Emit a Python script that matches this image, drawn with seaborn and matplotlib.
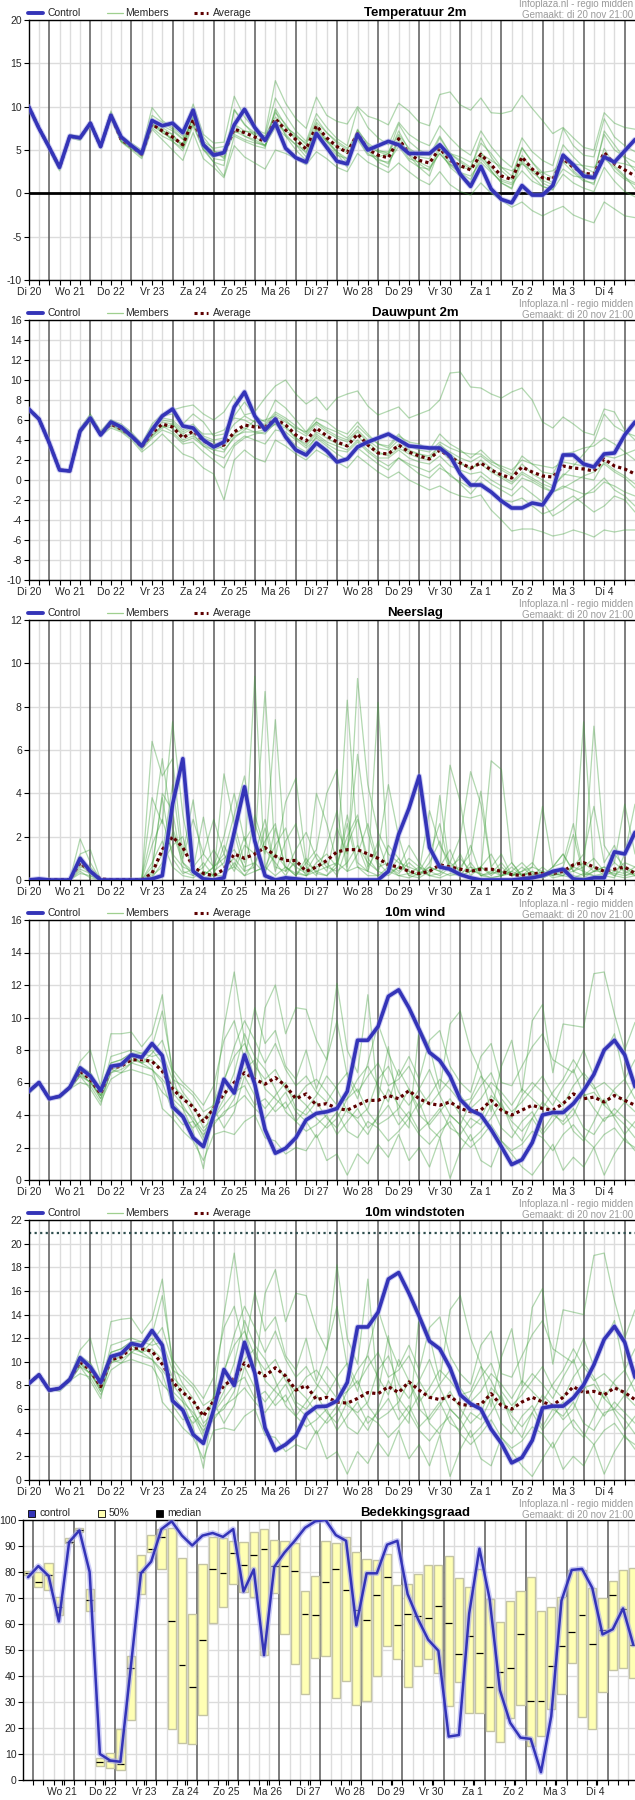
import numpy as np
import pandas as pd
import matplotlib
matplotlib.use('Agg')
import matplotlib.pyplot as plt
from matplotlib.lines import Line2D
from matplotlib.patches import Rectangle
import seaborn as sns

sns.set_style('white')
plt.rcParams['font.family'] = ['Liberation Sans', 'DejaVu Sans']
plt.rcParams['axes.unicode_minus'] = False

W, H = 635, 1800

# time axis: hours since Di 20 00:00, one value every 6 hours
hours = np.arange(12, 367, 6)
cloud_hours = np.arange(21, 376, 6)
day_labels = ['Di 20', 'Wo 21', 'Do 22', 'Vr 23', 'Za 24', 'Zo 25', 'Ma 26', 'Di 27',
              'Wo 28', 'Do 29', 'Vr 30', 'Za 1', 'Zo 2', 'Ma 3', 'Di 4']

# ---- Temperatuur 2m ----
temp_control = [10.0, 7.5, 5.3, 3.0, 6.6, 6.4, 8.1, 5.4, 9.0, 6.5, 5.5, 4.6, 8.4, 7.8, 8.1, 7.0,
                9.6, 5.6, 4.4, 4.7, 7.9, 9.7, 7.6, 6.1, 8.1, 5.2, 4.1, 3.6, 6.9, 5.3, 3.7, 3.4,
                6.8, 5.0, 5.5, 6.0, 5.6, 4.6, 4.6, 4.6, 5.6, 4.3, 2.2, 0.8, 3.1, 0.5, -0.7, -1.1,
                0.9, -0.2, -0.2, 0.9, 4.4, 3.3, 2.0, 1.8, 4.2, 3.6, 4.9, 6.2]
temp_average = [10.0, 7.5, 5.3, 3.0, 6.6, 6.4, 8.1, 5.4, 9.0, 6.2, 5.4, 4.5, 8.0, 7.2, 6.5, 5.6,
                8.5, 5.6, 4.5, 4.6, 7.4, 7.0, 6.5, 6.0, 8.6, 7.3, 6.2, 5.1, 7.8, 6.4, 5.4, 4.7,
                6.9, 5.1, 4.4, 4.1, 6.3, 4.6, 3.8, 3.5, 5.2, 3.8, 3.2, 2.7, 4.5, 3.3, 2.0, 1.6,
                4.2, 2.8, 1.8, 1.6, 4.0, 3.0, 2.3, 2.2, 4.7, 3.4, 2.7, 2.0]
temp_members = [
    [10.0, 7.6, 5.2, 2.8, 6.8, 6.5, 8.3, 5.6, 9.5, 6.6, 5.8, 5.0, 9.9, 8.4, 7.6, 6.6, 10.3, 6.8, 5.8, 5.9,
     11.2, 8.8, 7.4, 6.9, 13.0, 10.4, 8.6, 7.5, 11.1, 9.0, 8.3, 8.0, 10.0, 8.9, 8.5, 7.9, 10.4, 9.5, 8.2, 7.8,
     11.4, 11.7, 10.2, 9.6, 11.0, 9.3, 9.2, 9.5, 11.3, 9.8, 8.4, 6.9, 7.6, 6.4, 5.3, 5.0, 9.3, 8.1, 7.6, 7.4],
    [10.0, 7.4, 5.0, 2.6, 6.4, 6.1, 7.8, 5.2, 8.6, 5.9, 5.0, 4.0, 7.4, 6.2, 5.0, 3.8, 7.0, 4.0, 3.0, 1.8,
     5.5, 4.2, 3.5, 2.8, 5.0, 4.6, 4.0, 3.3, 4.8, 4.0, 3.0, 2.5, 4.6, 3.6, 3.0, 2.4, 3.5, 2.5, 1.6, 1.0,
     2.5, 1.0, 0.2, -0.2, 1.2, 0.0, -0.8, -1.6, -1.0, -2.0, -2.6, -2.0, -1.5, -2.5, -3.0, -3.4, -1.0, -1.8, -2.6, -2.8],
    [10.0, 7.5, 5.4, 3.1, 6.7, 6.6, 8.0, 5.5, 9.3, 6.4, 5.6, 4.8, 9.0, 8.2, 7.4, 6.3, 9.8, 6.5, 5.0, 4.0,
     9.6, 7.9, 7.0, 6.6, 11.0, 9.0, 7.2, 6.0, 9.2, 7.6, 6.3, 5.5, 9.8, 7.6, 6.4, 5.6, 8.2, 6.8, 6.0, 5.5,
     7.8, 6.4, 5.2, 4.4, 7.2, 5.4, 4.0, 3.0, 6.4, 4.8, 3.8, 3.2, 7.5, 5.5, 4.4, 4.2, 8.6, 6.5, 5.5, 4.8],
    [10.0, 7.6, 5.3, 3.0, 6.5, 6.3, 8.2, 5.3, 8.8, 6.0, 5.2, 4.2, 8.0, 7.4, 6.0, 5.2, 9.0, 5.2, 3.6, 2.0,
     6.6, 6.0, 5.5, 5.2, 9.6, 6.6, 5.0, 3.8, 7.6, 6.0, 4.6, 3.0, 7.3, 5.0, 3.6, 3.0, 6.6, 4.4, 3.0, 2.0,
     5.2, 3.0, 2.0, 1.2, 4.8, 2.6, 1.2, 0.5, 3.6, 2.0, 0.8, 0.4, 4.4, 2.6, 1.6, 1.0, 5.2, 3.2, 2.0, 0.5],
    [10.0, 7.4, 5.2, 3.1, 6.6, 6.4, 8.0, 5.4, 8.9, 6.3, 5.5, 4.6, 7.8, 7.0, 6.4, 5.6, 8.2, 5.8, 4.8, 4.8,
     7.2, 6.6, 6.2, 5.5, 8.0, 7.2, 6.5, 5.2, 7.0, 6.0, 5.4, 4.6, 6.2, 4.4, 4.2, 4.6, 5.8, 4.0, 3.6, 3.0,
     4.6, 3.3, 3.0, 2.8, 4.2, 3.0, 1.6, 1.2, 3.8, 2.4, 1.5, 1.0, 2.8, 2.0, 1.8, 1.6, 4.0, 3.0, 1.8, 1.2],
    [10.0, 7.5, 5.3, 3.0, 6.6, 6.4, 8.1, 5.4, 9.1, 6.1, 5.3, 4.3, 8.6, 7.6, 6.8, 5.4, 9.2, 5.4, 4.6, 4.2,
     8.0, 7.2, 6.8, 6.4, 9.3, 8.0, 6.0, 4.6, 8.0, 6.2, 4.8, 4.0, 7.4, 5.6, 4.8, 4.4, 7.2, 5.0, 4.2, 4.0,
     6.4, 4.6, 3.8, 3.0, 5.8, 4.6, 3.0, 2.0, 5.3, 3.6, 2.4, 1.8, 5.6, 4.2, 3.0, 2.4, 6.8, 5.0, 4.2, 3.6],
    [10.0, 7.5, 5.3, 3.0, 6.7, 6.3, 8.0, 5.5, 9.2, 6.4, 5.6, 4.4, 7.6, 6.6, 6.0, 4.9, 7.8, 5.0, 3.6, 3.2,
     9.7, 8.0, 6.6, 5.5, 9.8, 7.8, 6.6, 5.8, 8.6, 7.0, 5.8, 5.0, 7.2, 5.8, 5.0, 4.6, 8.0, 6.0, 5.0, 4.4,
     6.6, 4.6, 3.6, 2.8, 6.4, 4.2, 2.6, 1.6, 5.2, 3.6, 2.0, 1.2, 4.6, 3.2, 2.4, 2.0, 7.2, 5.6, 4.0, 2.6],
    [10.0, 7.5, 5.2, 2.9, 6.5, 6.5, 8.2, 5.3, 8.9, 6.0, 5.1, 4.6, 8.2, 7.0, 6.2, 5.8, 8.8, 5.4, 4.0, 3.8,
     8.0, 6.6, 6.0, 5.4, 8.4, 6.8, 5.6, 4.2, 7.4, 6.0, 4.8, 3.6, 6.8, 5.0, 4.0, 3.4, 6.0, 4.6, 3.4, 2.6,
     5.6, 3.4, 2.4, 1.6, 4.0, 2.6, 1.2, 0.6, 4.4, 2.8, 1.2, 0.6, 3.6, 2.4, 1.4, 1.2, 4.4, 2.6, 1.6, 1.0],
    [10.0, 7.4, 5.4, 3.0, 6.6, 6.5, 8.0, 5.4, 9.0, 6.2, 5.5, 4.7, 8.4, 7.8, 7.2, 6.2, 8.6, 6.0, 5.2, 5.4,
     7.0, 7.2, 7.0, 6.6, 8.8, 7.6, 6.8, 5.6, 8.2, 7.0, 6.0, 5.2, 6.6, 5.4, 4.8, 4.8, 6.8, 5.2, 4.4, 4.4,
     5.6, 4.6, 4.2, 3.6, 4.6, 3.8, 3.0, 2.6, 3.4, 2.6, 2.4, 2.6, 3.6, 3.4, 3.2, 3.0, 4.2, 3.6, 3.4, 3.0],
    [10.0, 7.6, 5.3, 3.0, 6.6, 6.3, 8.1, 5.4, 8.8, 6.1, 5.2, 4.4, 8.0, 7.2, 6.8, 5.2, 8.0, 5.0, 4.2, 4.6,
     6.8, 6.2, 5.8, 5.6, 7.6, 6.6, 5.6, 4.8, 7.2, 5.6, 4.4, 4.0, 6.4, 4.6, 3.8, 3.6, 5.4, 3.8, 3.0, 2.8,
     4.6, 3.2, 2.4, 2.0, 3.6, 2.4, 1.4, 1.0, 2.6, 1.4, 0.8, 0.4, 2.2, 1.2, 0.6, 0.2, 3.0, 1.4, 0.2, -0.4],
]

# ---- Dauwpunt 2m ----
dew_control = [7.1, 6.1, 3.7, 1.0, 0.9, 4.9, 6.2, 4.5, 5.8, 5.3, 4.4, 3.4, 5.0, 6.4, 7.1, 5.4,
               5.2, 4.0, 3.3, 3.8, 7.3, 8.8, 6.4, 5.0, 6.1, 4.3, 3.0, 2.5, 3.7, 2.9, 1.8, 2.1,
               3.3, 3.8, 4.2, 4.6, 4.0, 3.4, 3.3, 3.2, 3.2, 2.4, 0.6, -0.5, -0.5, -1.2, -2.1, -2.8,
               -2.8, -2.3, -2.5, -1.0, 2.5, 2.5, 1.6, 1.3, 2.6, 2.7, 4.5, 5.8]
dew_average = [7.1, 6.1, 3.7, 1.0, 0.9, 4.9, 6.2, 4.6, 5.6, 5.1, 4.4, 3.3, 4.7, 5.6, 5.3, 4.2,
               4.9, 3.9, 3.4, 3.5, 4.8, 5.5, 5.3, 5.3, 6.1, 5.5, 4.5, 3.9, 5.2, 4.4, 3.8, 3.4,
               4.6, 3.5, 2.7, 2.6, 3.5, 2.8, 2.4, 2.1, 3.0, 2.3, 1.7, 1.2, 1.7, 1.0, 0.5, 0.2,
               1.3, 0.8, 0.4, 0.3, 1.4, 1.2, 1.1, 0.9, 2.1, 1.4, 1.1, 0.6]
dew_members = [
    [7.1, 6.0, 3.6, 1.1, 0.8, 5.0, 6.5, 4.8, 6.0, 5.6, 4.8, 3.6, 5.6, 6.6, 7.0, 7.3, 7.5, 6.6, 6.0, 6.8,
     8.4, 6.5, 6.8, 8.2, 9.4, 10.0, 8.6, 7.6, 8.3, 7.0, 8.2, 8.6, 8.9, 7.4, 6.5, 6.9, 7.3, 6.2, 6.6, 7.0,
     8.0, 10.7, 10.8, 9.3, 9.2, 8.6, 8.2, 8.8, 9.2, 8.0, 5.8, 5.2, 6.3, 5.6, 4.8, 4.5, 7.1, 6.8, 5.0, 4.0],
    [7.1, 6.1, 3.8, 0.9, 1.0, 4.6, 6.0, 4.4, 5.2, 4.8, 4.0, 2.8, 3.6, 4.6, 3.6, 2.6, 2.2, 1.2, 0.6, -2.0,
     2.0, 3.0, 2.2, 1.8, 4.0, 3.4, 2.6, 2.0, 3.0, 2.4, 1.8, 1.2, 2.4, 1.6, 0.8, 0.2, 0.8, 0.0, -0.5, -1.0,
     -0.6, -1.2, -1.6, -1.8, -1.5, -3.0, -4.0, -5.1, -4.9, -4.9, -5.2, -5.6, -5.4, -5.0, -5.3, -5.7, -5.0, -5.2, -5.0, -5.0],
    [7.1, 6.1, 3.7, 1.0, 0.9, 5.2, 6.6, 4.9, 6.0, 5.4, 4.6, 3.6, 5.0, 6.4, 6.6, 5.6, 6.6, 5.8, 4.4, 4.6,
     6.4, 7.8, 6.4, 5.8, 8.0, 7.2, 6.0, 4.8, 6.2, 5.8, 5.0, 4.6, 5.8, 4.6, 3.6, 3.2, 4.4, 3.8, 3.6, 3.0,
     4.6, 3.6, 3.0, 2.2, 3.0, 2.0, 1.2, 0.6, 2.4, 1.6, 0.8, 0.6, 2.6, 2.8, 3.2, 3.4, 4.2, 3.6, 2.8, 2.0],
    [7.1, 6.1, 3.6, 0.9, 0.9, 4.8, 6.0, 4.4, 5.4, 4.9, 4.2, 3.0, 4.2, 5.0, 4.6, 3.6, 3.8, 2.8, 2.0, 1.2,
     3.4, 4.2, 4.6, 4.8, 5.6, 4.6, 3.4, 2.8, 4.4, 3.6, 3.0, 2.8, 3.8, 2.8, 2.0, 1.4, 2.2, 1.6, 1.2, 0.8,
     1.6, 0.4, -0.2, -0.8, 0.4, -0.4, -1.0, -1.6, -0.6, -1.4, -2.2, -3.6, -3.0, -2.2, -1.6, -0.8, 0.2, -1.0, -1.6, -2.6],
    [7.1, 6.1, 3.7, 1.0, 0.9, 4.9, 6.3, 4.7, 5.8, 5.2, 4.5, 3.4, 5.4, 6.0, 5.8, 4.8, 5.4, 4.6, 4.6, 5.0,
     6.2, 6.0, 5.4, 5.6, 6.8, 6.2, 5.4, 4.6, 5.8, 5.0, 4.4, 4.0, 5.0, 4.0, 3.2, 3.0, 4.0, 3.0, 2.6, 2.4,
     3.4, 2.8, 2.2, 1.8, 2.4, 1.6, 1.0, 0.4, 1.6, 0.6, 0.0, -0.6, 0.4, 1.4, 2.6, 3.8, 6.6, 5.4, 4.8, 4.4],
    [7.1, 6.0, 3.8, 1.0, 1.0, 5.0, 6.2, 4.6, 5.6, 5.0, 4.2, 3.2, 4.6, 5.4, 4.8, 3.8, 4.2, 3.4, 2.6, 2.2,
     3.6, 4.4, 4.0, 3.6, 5.0, 4.8, 4.0, 3.2, 4.2, 3.4, 2.6, 2.0, 3.2, 2.4, 1.6, 1.0, 2.2, 1.4, 0.6, 0.2,
     1.2, 0.6, -0.4, -1.4, -0.2, -1.2, -2.0, -2.2, -1.8, -2.6, -3.4, -3.0, -2.2, -1.6, -2.4, -3.2, -2.6, -1.6, -2.0, -3.2],
    [7.1, 6.1, 3.7, 1.0, 0.9, 4.8, 6.2, 4.6, 5.6, 5.2, 4.6, 3.4, 4.8, 5.8, 5.6, 4.6, 5.2, 4.2, 3.8, 3.0,
     4.2, 5.0, 6.0, 5.4, 6.6, 6.0, 5.0, 4.4, 5.6, 4.8, 4.2, 3.8, 4.8, 3.8, 2.8, 2.4, 3.2, 2.6, 2.2, 2.0,
     3.6, 2.6, 1.8, 1.0, 2.0, 1.2, 0.4, -0.2, 0.8, 0.2, -0.4, -0.8, 0.6, 0.4, 0.2, 0.0, 1.8, 1.0, 0.4, -0.4],
    [7.1, 6.1, 3.7, 1.0, 0.9, 4.9, 6.1, 4.5, 5.7, 5.0, 4.3, 3.2, 4.4, 5.2, 5.6, 4.4, 4.6, 3.4, 3.0, 2.8,
     4.4, 4.8, 4.8, 5.0, 5.6, 5.2, 4.2, 3.6, 4.8, 4.2, 3.6, 3.4, 4.4, 3.4, 2.6, 2.6, 3.6, 2.8, 2.6, 2.2,
     3.0, 2.0, 1.6, 1.2, 1.6, 0.8, 0.2, -0.4, 0.6, 0.0, -0.6, -1.2, -0.8, -0.2, 0.4, 0.8, 1.6, 0.8, 0.2, -0.8],
    [7.1, 6.0, 3.7, 1.0, 0.9, 5.0, 6.3, 4.7, 5.8, 5.4, 4.6, 3.5, 5.2, 6.2, 6.0, 5.0, 5.6, 4.4, 4.0, 4.2,
     5.6, 6.4, 5.8, 6.0, 6.4, 5.8, 5.2, 4.8, 5.8, 5.2, 4.8, 4.2, 5.4, 4.4, 3.6, 3.4, 4.6, 3.4, 3.0, 2.8,
     3.8, 3.2, 2.8, 2.6, 2.6, 1.8, 1.4, 1.0, 2.0, 1.6, 1.4, 1.2, 1.8, 1.6, 1.4, 1.2, 2.4, 2.2, 2.6, 3.0],
    [7.1, 6.1, 3.7, 1.0, 0.9, 4.9, 6.2, 4.6, 5.5, 5.0, 4.4, 3.2, 4.4, 5.4, 5.2, 4.0, 4.4, 3.6, 3.0, 3.4,
     4.6, 5.2, 4.8, 4.6, 5.8, 5.4, 4.2, 3.4, 4.6, 3.8, 3.4, 3.0, 4.0, 3.0, 2.2, 2.2, 3.0, 2.2, 1.8, 1.6,
     2.4, 1.4, 1.0, 0.6, 0.8, 0.0, -0.6, -1.0, 0.2, -0.2, -0.8, -1.2, -0.6, -1.0, -1.4, -1.2, -0.2, -0.6, -1.2, -1.6],
]

# ---- Neerslag ----
rain_control = [0.0, 0.05, 0.0, 0.0, 0.0, 1.0, 0.4, 0.0, 0.0, 0.0, 0.0, 0.0, 0.05, 0.2, 3.5, 5.6,
                0.4, 0.05, 0.0, 0.1, 2.2, 4.3, 1.8, 0.2, 0.0, 0.1, 0.05, 0.0, 0.0, 0.0, 0.0, 0.0,
                0.0, 0.0, 0.0, 0.4, 2.1, 3.3, 4.8, 1.5, 0.6, 0.5, 0.25, 0.1, 0.0, 0.0, 0.0, 0.0,
                0.05, 0.1, 0.2, 0.4, 0.5, 0.05, 0.0, 0.1, 0.1, 1.3, 1.2, 2.2]
rain_average = [0.02, 0.02, 0.02, 0.02, 0.02, 0.8, 0.4, 0.05, 0.02, 0.02, 0.02, 0.02, 0.3, 1.4, 2.0, 1.5,
                0.6, 0.3, 0.2, 0.5, 1.2, 1.0, 1.2, 1.5, 1.1, 0.9, 0.9, 0.4, 0.6, 0.9, 1.3, 1.4,
                1.4, 1.2, 1.0, 0.7, 0.6, 0.4, 0.3, 0.4, 0.7, 0.6, 0.5, 0.4, 0.5, 0.5, 0.4, 0.25,
                0.2, 0.3, 0.3, 0.3, 0.4, 0.7, 0.8, 0.6, 0.4, 0.5, 0.6, 0.3]
rain_members = [
    [0, 0, 0, 0, 0, 1.9, 0.8, 0, 0, 0, 0, 0, 6.4, 4.8, 5.6, 1.2, 3.7, 0.4, 0.2, 4.9,
     2.6, 0.8, 9.4, 0.4, 1.2, 0.6, 0.3, 0.2, 0.4, 0.6, 0.8, 8.3, 1.6, 0.4, 8.2, 0.6, 0.2, 0.1, 0.3, 0.6,
     0.4, 5.3, 3.6, 0.6, 0.4, 5.5, 5.1, 0.8, 0.2, 0.4, 0.1, 0.3, 0.4, 0.6, 7.3, 0.6, 0.4, 0.3, 0.2, 0.3],
    [0, 0, 0, 0, 0, 1.2, 1.4, 0, 0, 0, 0, 0, 3.8, 2.6, 7.3, 3.0, 0.6, 1.2, 2.8, 1.2,
     3.0, 4.8, 1.6, 8.7, 1.0, 3.6, 4.7, 0.8, 1.4, 4.0, 5.1, 0.6, 9.3, 4.4, 2.2, 1.2, 0.8, 0.6, 0.4, 3.2,
     1.6, 0.8, 2.0, 5.0, 3.5, 0.6, 1.2, 0.2, 0.4, 0.6, 3.4, 0.6, 0.8, 2.6, 0.3, 7.1, 1.6, 0.8, 3.5, 1.2],
    [0, 0.05, 0, 0, 0, 0.9, 0.6, 0.05, 0, 0, 0, 0.1, 2.2, 5.6, 2.4, 1.0, 2.8, 1.2, 0.6, 2.0,
     4.0, 1.8, 2.6, 1.2, 7.4, 1.0, 0.6, 0.3, 4.0, 2.6, 0.8, 2.0, 3.0, 0.6, 1.4, 4.4, 2.0, 0.4, 0.2, 0.8,
     1.8, 0.4, 0.6, 1.2, 4.1, 0.6, 0.2, 0.4, 0.8, 0.3, 0.2, 0.6, 1.2, 0.4, 0.8, 0.4, 0.4, 1.2, 0.6, 0.2],
    [0, 0, 0, 0, 0, 0.7, 0.3, 0, 0, 0, 0, 0, 0.6, 3.8, 1.0, 0.3, 0.5, 2.9, 0.4, 0.8,
     2.2, 0.4, 0.6, 2.4, 0.4, 1.8, 2.6, 0.6, 0.2, 1.6, 3.2, 0.4, 1.2, 2.6, 0.8, 0.3, 0.6, 1.6, 0.8, 0.2,
     3.9, 0.4, 1.2, 0.2, 0.6, 1.2, 0.3, 0.8, 0.2, 0.6, 0.4, 0.2, 0.6, 2.1, 0.2, 0.4, 0.6, 0.4, 0.8, 0.6],
    [0, 0, 0, 0, 0, 1.1, 0.2, 0, 0, 0, 0, 0, 0.3, 1.2, 4.4, 0.8, 0.2, 0.6, 1.4, 0.6,
     1.0, 0.4, 3.0, 1.4, 0.8, 0.2, 1.0, 0.2, 0.6, 0.8, 0.2, 1.6, 2.8, 1.0, 0.4, 1.6, 1.0, 0.2, 0.1, 0.4,
     0.6, 1.4, 0.2, 0.8, 0.2, 0.3, 0.4, 0.2, 0.6, 0.2, 0.1, 0.3, 0.2, 0.6, 1.2, 3.4, 0.8, 1.6, 0.2, 0.4],
    [0, 0, 0, 0, 0, 0.4, 0.1, 0, 0, 0, 0, 0, 0.1, 0.8, 1.6, 2.0, 0.3, 0.1, 0.2, 1.6,
     0.6, 0.2, 0.8, 0.3, 2.4, 0.6, 0.2, 1.0, 0.3, 0.2, 0.6, 3.0, 0.8, 0.4, 0.2, 0.6, 0.3, 0.8, 0.4, 0.2,
     0.3, 0.8, 0.4, 1.6, 0.2, 0.1, 0.2, 0.4, 0.2, 0.1, 0.4, 0.2, 0.3, 0.4, 0.2, 0.6, 0.2, 0.1, 1.2, 3.5],
    [0, 0, 0, 0, 0, 0.6, 0.5, 0, 0, 0, 0, 0, 1.6, 2.8, 1.2, 0.6, 0.4, 0.2, 0.6, 1.2,
     0.4, 1.6, 1.2, 2.8, 0.6, 0.4, 1.4, 2.2, 1.0, 0.4, 2.4, 1.2, 5.8, 2.2, 0.6, 0.8, 0.4, 1.0, 0.6, 0.4,
     0.2, 0.6, 1.0, 0.4, 0.6, 0.3, 0.8, 0.2, 0.4, 0.8, 0.2, 0.6, 1.2, 0.4, 0.6, 1.0, 0.4, 0.2, 0.6, 0.4],
    [0, 0, 0, 0, 0, 0.3, 0.2, 0, 0, 0, 0, 0, 0.4, 4.0, 3.2, 0.4, 0.2, 0.8, 0.2, 0.4,
     0.6, 2.0, 0.4, 0.6, 1.6, 2.4, 0.4, 0.2, 0.8, 1.2, 0.6, 2.6, 0.6, 0.4, 1.8, 0.4, 1.0, 0.2, 0.4, 1.2,
     2.6, 0.4, 0.2, 0.4, 0.6, 0.2, 0.6, 0.2, 0.3, 0.2, 0.4, 0.1, 0.2, 0.6, 0.4, 0.2, 0.3, 0.8, 0.4, 0.2],
    [0, 0, 0, 0, 0, 0.5, 0.3, 0, 0, 0, 0, 0, 0.2, 0.6, 2.2, 0.8, 0.4, 0.2, 0.6, 1.0,
     1.4, 0.6, 0.8, 1.8, 2.6, 0.4, 0.8, 0.4, 1.2, 0.6, 0.4, 0.8, 1.6, 0.8, 0.4, 0.2, 0.6, 0.4, 0.2, 0.6,
     0.4, 0.2, 0.3, 0.6, 0.2, 0.4, 0.2, 0.3, 0.1, 0.2, 0.6, 0.2, 0.4, 0.2, 0.1, 0.4, 0.6, 0.2, 0.1, 0.2],
    [0, 0, 0, 0, 0, 0.8, 0.4, 0, 0, 0, 0, 0, 0.8, 1.8, 0.6, 0.2, 0.1, 0.4, 0.2, 0.2,
     0.8, 0.2, 0.4, 0.6, 0.2, 0.6, 0.2, 0.8, 0.4, 0.2, 0.8, 0.4, 0.6, 0.2, 0.2, 0.4, 0.2, 0.3, 0.6, 0.2,
     0.1, 0.3, 0.2, 0.4, 0.3, 0.1, 0.2, 0.6, 0.2, 0.4, 0.2, 0.3, 0.2, 0.1, 0.3, 0.2, 0.2, 0.4, 0.3, 0.6],
]

# ---- 10m wind ----
wind_control = [5.45, 6.0, 5.0, 5.15, 5.7, 6.9, 6.4, 5.5, 7.0, 7.1, 7.7, 7.55, 8.4, 7.65, 4.5, 3.9,
                2.6, 2.05, 4.0, 6.2, 5.35, 7.7, 5.9, 3.1, 1.65, 1.95, 2.6, 3.7, 4.1, 4.2, 4.4, 5.45,
                8.6, 8.6, 9.45, 11.3, 11.7, 10.6, 9.25, 7.85, 7.35, 6.4, 4.95, 4.3, 4.0, 3.1, 2.05, 0.95,
                1.25, 2.3, 4.0, 4.15, 4.15, 4.7, 5.5, 6.5, 8.0, 8.6, 7.7, 5.75]
wind_average = [5.45, 6.0, 5.0, 5.15, 5.7, 6.7, 6.2, 5.3, 6.9, 7.0, 7.4, 7.4, 7.3, 6.7, 5.6, 5.0,
                4.5, 3.6, 4.4, 5.3, 6.0, 6.6, 6.2, 5.9, 6.3, 5.8, 5.0, 5.3, 4.6, 4.7, 4.4, 4.3,
                4.6, 4.9, 4.9, 5.2, 5.0, 5.5, 5.0, 4.7, 4.6, 4.8, 4.4, 4.2, 4.3, 4.9, 4.3, 4.0,
                4.3, 4.6, 4.4, 4.3, 4.7, 5.3, 5.0, 5.1, 4.8, 5.2, 4.9, 4.6]
wind_members = [
    [5.4, 6.0, 5.0, 5.2, 5.8, 7.3, 8.0, 5.8, 9.0, 9.0, 9.1, 8.2, 9.0, 11.4, 6.4, 4.4, 3.0, 0.7, 4.4, 9.4,
     12.8, 8.6, 6.0, 10.6, 12.0, 9.0, 10.6, 10.5, 8.6, 7.4, 12.1, 8.0, 6.6, 11.4, 5.0, 8.2, 4.0, 3.2, 9.4, 8.2,
     5.6, 9.6, 10.4, 8.0, 6.6, 4.2, 7.0, 8.6, 5.4, 9.8, 10.8, 6.6, 9.6, 9.5, 9.4, 12.7, 12.8, 10.2, 8.0, 9.7],
    [5.5, 5.9, 5.1, 5.0, 5.6, 6.4, 5.6, 4.6, 6.8, 6.6, 7.2, 7.6, 7.0, 4.4, 3.8, 3.0, 2.4, 1.2, 2.8, 3.0,
     2.8, 3.6, 4.0, 2.6, 2.4, 1.6, 2.0, 1.8, 2.8, 1.2, 1.6, 0.3, 1.6, 1.0, 2.2, 1.4, 2.8, 1.2, 2.0, 0.8,
     2.6, 0.1, 1.8, 2.8, 1.2, 0.8, 2.4, 1.6, 0.8, 0.3, 1.2, 2.2, 0.6, 1.4, 0.8, 2.0, 0.3, 1.6, 2.6, 1.8],
    [5.4, 6.0, 5.0, 5.2, 5.8, 6.8, 6.6, 5.2, 7.6, 7.8, 8.0, 7.8, 8.2, 10.4, 6.8, 6.0, 5.4, 4.6, 5.8, 8.6,
     9.8, 7.4, 10.6, 8.4, 9.2, 7.0, 6.2, 8.0, 5.6, 7.4, 9.8, 6.4, 5.0, 7.2, 9.6, 7.8, 6.4, 7.6, 6.2, 8.6,
     9.2, 7.0, 6.0, 5.4, 7.6, 8.4, 6.0, 5.8, 7.0, 8.2, 9.0, 7.4, 7.0, 6.6, 8.0, 6.4, 7.8, 9.0, 6.2, 7.4],
    [5.5, 6.0, 5.1, 5.1, 5.6, 6.6, 6.2, 5.0, 6.6, 7.0, 7.6, 7.2, 6.8, 6.0, 4.2, 3.4, 3.6, 2.4, 3.8, 4.6,
     5.4, 5.8, 4.6, 5.0, 4.2, 4.8, 3.6, 3.0, 3.4, 4.0, 2.8, 3.6, 4.4, 3.2, 3.8, 4.6, 3.4, 4.2, 3.0, 3.6,
     4.4, 3.2, 2.8, 3.8, 3.4, 4.6, 3.2, 2.6, 3.6, 4.2, 3.0, 4.0, 3.6, 4.4, 3.2, 2.8, 3.8, 4.0, 3.4, 2.6],
    [5.3, 5.9, 5.0, 5.1, 5.7, 6.9, 6.4, 5.6, 7.2, 7.4, 7.8, 7.6, 8.0, 7.2, 5.8, 5.2, 4.0, 2.6, 4.8, 6.2,
     7.6, 8.4, 7.0, 6.2, 6.8, 5.6, 5.0, 5.8, 6.2, 5.4, 4.6, 5.0, 6.2, 7.0, 5.8, 4.8, 6.8, 5.6, 4.4, 5.2,
     6.2, 5.6, 4.8, 5.0, 6.4, 5.6, 4.4, 3.8, 5.2, 6.0, 5.4, 4.6, 5.8, 6.8, 5.2, 5.4, 4.6, 5.6, 6.2, 5.0],
    [5.4, 6.0, 5.0, 5.2, 5.6, 6.0, 5.8, 4.8, 6.2, 6.6, 6.8, 6.6, 6.4, 5.4, 4.8, 4.0, 3.2, 3.8, 4.4, 3.2,
     4.2, 6.4, 5.2, 4.4, 5.2, 6.0, 4.4, 4.0, 4.8, 3.8, 3.2, 4.4, 3.6, 2.8, 4.0, 5.6, 4.6, 3.8, 4.8, 3.2,
     2.6, 4.0, 3.4, 2.4, 3.0, 3.8, 4.8, 3.2, 2.4, 3.8, 2.8, 3.6, 4.4, 3.0, 2.4, 3.6, 5.0, 3.8, 2.8, 3.6],
    [5.5, 6.0, 5.0, 5.1, 5.7, 6.6, 6.0, 5.2, 7.0, 7.2, 7.6, 7.2, 7.8, 8.6, 6.6, 5.4, 4.6, 3.2, 3.8, 5.0,
     6.6, 9.0, 7.6, 6.8, 5.6, 4.2, 3.6, 4.4, 5.2, 6.4, 5.6, 4.2, 3.8, 4.4, 6.2, 7.0, 5.4, 4.6, 5.6, 6.8,
     5.2, 4.0, 3.4, 4.8, 5.8, 6.6, 5.0, 4.2, 4.8, 5.6, 6.4, 5.2, 4.6, 5.8, 6.6, 5.8, 4.6, 4.0, 4.8, 5.8],
    [5.4, 5.9, 5.0, 5.1, 5.6, 6.5, 6.0, 5.2, 6.8, 7.0, 7.4, 7.2, 7.4, 6.8, 5.0, 4.4, 3.8, 3.0, 3.6, 4.0,
     5.0, 6.8, 7.4, 5.6, 5.0, 4.4, 5.2, 4.6, 3.8, 3.2, 3.8, 5.0, 5.6, 4.2, 3.4, 3.8, 4.4, 5.6, 4.0, 3.4,
     4.2, 5.0, 4.0, 3.2, 3.8, 5.2, 4.6, 3.6, 3.0, 3.8, 4.8, 4.2, 3.4, 4.0, 5.4, 4.4, 3.6, 4.4, 3.8, 3.2],
    [5.5, 6.0, 5.0, 5.2, 5.8, 7.0, 6.6, 5.6, 7.2, 7.4, 7.8, 7.8, 7.6, 7.8, 6.2, 5.8, 5.2, 4.2, 4.6, 6.0,
     8.2, 9.8, 8.6, 7.2, 8.4, 6.8, 5.8, 6.4, 5.4, 4.8, 5.8, 6.6, 5.4, 6.4, 7.2, 5.8, 6.2, 7.0, 5.6, 4.6,
     5.4, 6.2, 5.2, 4.4, 5.0, 6.0, 5.4, 4.6, 5.6, 5.0, 4.4, 5.4, 6.2, 7.4, 6.4, 5.6, 6.0, 5.4, 4.8, 4.2],
    [5.4, 6.0, 5.0, 5.1, 5.6, 6.4, 6.0, 5.0, 6.6, 6.8, 7.2, 7.0, 6.8, 6.2, 5.4, 4.6, 3.6, 2.8, 3.4, 4.2,
     4.6, 5.2, 4.4, 3.8, 4.6, 5.4, 4.2, 3.6, 2.6, 3.4, 4.2, 3.0, 2.6, 3.6, 3.2, 2.4, 3.0, 3.8, 2.8, 2.2,
     3.0, 3.6, 2.6, 2.0, 2.6, 3.4, 2.4, 1.8, 2.2, 3.0, 2.6, 1.8, 2.8, 3.4, 2.6, 2.0, 2.8, 3.2, 2.4, 2.0],
]

# ---- 10m windstoten ----
gust_control = [8.15, 8.9, 7.6, 7.75, 8.5, 10.35, 9.55, 8.25, 10.45, 10.7, 11.55, 11.35, 12.65, 11.4, 6.7, 5.9,
                3.85, 3.1, 5.95, 9.35, 8.0, 11.65, 9.05, 4.4, 2.5, 3.0, 3.75, 5.55, 6.2, 6.25, 6.7, 8.25,
                12.95, 12.95, 14.2, 17.0, 17.55, 15.8, 13.85, 11.75, 11.1, 9.5, 7.2, 6.45, 6.0, 4.3, 3.1, 1.45,
                1.9, 3.35, 6.1, 6.25, 6.25, 6.95, 8.05, 9.75, 11.9, 13.0, 11.65, 8.7]
gust_average = [8.15, 8.9, 7.6, 7.75, 8.5, 10.0, 9.3, 7.9, 10.2, 10.4, 11.2, 11.1, 10.9, 9.8, 8.3, 7.4,
                6.7, 5.4, 6.7, 8.0, 8.6, 9.9, 9.3, 8.8, 9.5, 8.8, 7.6, 8.0, 6.8, 7.0, 6.6, 6.5,
                6.9, 7.4, 7.3, 7.9, 7.4, 8.3, 7.6, 7.0, 6.8, 7.1, 6.4, 6.3, 6.4, 7.3, 6.3, 6.0,
                6.6, 7.0, 6.6, 6.3, 7.0, 7.9, 7.4, 7.5, 7.2, 7.8, 7.4, 6.8]
gust_members = [
    [8.1, 8.9, 7.6, 7.8, 8.6, 11.0, 12.0, 8.6, 13.4, 13.6, 13.7, 12.4, 13.6, 17.0, 9.6, 6.6, 4.5, 1.0, 6.6, 14.0,
     19.2, 12.8, 9.0, 15.8, 17.8, 13.4, 15.8, 15.6, 12.8, 11.0, 18.2, 12.0, 9.8, 17.0, 7.4, 12.2, 6.0, 4.8, 14.0, 12.2,
     8.4, 14.4, 15.6, 12.0, 9.8, 6.2, 10.4, 12.8, 8.0, 14.6, 16.2, 9.8, 14.4, 14.2, 14.0, 19.0, 19.2, 15.2, 12.0, 14.4],
    [8.2, 8.8, 7.7, 7.5, 8.3, 9.6, 8.4, 6.9, 10.2, 9.9, 10.8, 11.4, 10.5, 6.6, 5.6, 4.4, 3.6, 1.8, 4.2, 4.4,
     4.2, 5.4, 6.0, 3.8, 3.6, 2.4, 3.0, 2.6, 4.2, 1.8, 2.4, 0.5, 2.4, 1.4, 3.2, 2.0, 4.2, 1.8, 3.0, 1.2,
     3.8, 0.3, 2.6, 4.2, 1.8, 1.2, 3.6, 2.4, 1.2, 0.3, 1.8, 3.2, 0.9, 2.0, 1.2, 3.0, 0.5, 2.4, 3.8, 2.6],
    [8.1, 9.0, 7.5, 7.8, 8.7, 10.2, 9.9, 7.8, 11.4, 11.7, 12.0, 11.7, 12.3, 15.6, 10.2, 9.0, 8.1, 6.9, 8.7, 12.9,
     14.7, 11.1, 15.9, 12.6, 13.8, 10.5, 9.3, 12.0, 8.4, 11.1, 14.7, 9.6, 7.5, 10.8, 14.4, 11.7, 9.6, 11.4, 9.3, 12.9,
     13.8, 10.5, 9.0, 8.1, 11.4, 12.6, 9.0, 8.7, 10.5, 12.3, 13.5, 11.1, 10.5, 9.9, 12.0, 9.6, 11.7, 13.5, 9.3, 11.1],
    [8.2, 9.0, 7.6, 7.7, 8.4, 9.9, 9.3, 7.5, 9.9, 10.5, 11.4, 10.8, 10.2, 9.0, 6.3, 5.1, 5.4, 3.6, 5.7, 6.9,
     8.1, 8.7, 6.9, 7.5, 6.3, 7.2, 5.4, 4.5, 5.1, 6.0, 4.2, 5.4, 6.6, 4.8, 5.7, 6.9, 5.1, 6.3, 4.5, 5.4,
     6.6, 4.8, 4.2, 5.7, 5.1, 6.9, 4.8, 3.9, 5.4, 6.3, 4.5, 6.0, 5.4, 6.6, 4.8, 4.2, 5.7, 6.0, 5.1, 3.9],
    [8.0, 8.9, 7.5, 7.7, 8.6, 10.4, 9.6, 8.4, 10.8, 11.1, 11.7, 11.4, 12.0, 10.8, 8.7, 7.8, 6.0, 3.9, 7.2, 9.3,
     11.4, 12.6, 10.5, 9.3, 10.2, 8.4, 7.5, 8.7, 9.3, 8.1, 6.9, 7.5, 9.3, 10.5, 8.7, 7.2, 10.2, 8.4, 6.6, 7.8,
     9.3, 8.4, 7.2, 7.5, 9.6, 8.4, 6.6, 5.7, 7.8, 9.0, 8.1, 6.9, 8.7, 10.2, 7.8, 8.1, 6.9, 8.4, 9.3, 7.5],
    [8.1, 9.0, 7.5, 7.8, 8.4, 9.0, 8.7, 7.2, 9.3, 9.9, 10.2, 9.9, 9.6, 8.1, 7.2, 6.0, 4.8, 5.7, 6.6, 4.8,
     6.3, 9.6, 7.8, 6.6, 7.8, 9.0, 6.6, 6.0, 7.2, 5.7, 4.8, 6.6, 5.4, 4.2, 6.0, 8.4, 6.9, 5.7, 7.2, 4.8,
     3.9, 6.0, 5.1, 3.6, 4.5, 5.7, 7.2, 4.8, 3.6, 5.7, 4.2, 5.4, 6.6, 4.5, 3.6, 5.4, 7.5, 5.7, 4.2, 5.4],
    [8.2, 9.0, 7.5, 7.7, 8.6, 9.9, 9.0, 7.8, 10.5, 10.8, 11.4, 10.8, 11.7, 12.9, 9.9, 8.1, 6.9, 4.8, 5.7, 7.5,
     9.9, 13.5, 11.4, 10.2, 8.4, 6.3, 5.4, 6.6, 7.8, 9.6, 8.4, 6.3, 5.7, 6.6, 9.3, 10.5, 8.1, 6.9, 8.4, 10.2,
     7.8, 6.0, 5.1, 7.2, 8.7, 9.9, 7.5, 6.3, 7.2, 8.4, 9.6, 7.8, 6.9, 8.7, 9.9, 8.7, 6.9, 6.0, 7.2, 8.7],
    [8.1, 8.9, 7.5, 7.7, 8.4, 9.8, 9.0, 7.8, 10.2, 10.5, 11.1, 10.8, 11.1, 10.2, 7.5, 6.6, 5.7, 4.5, 5.4, 6.0,
     7.5, 10.2, 11.1, 8.4, 7.5, 6.6, 7.8, 6.9, 5.7, 4.8, 5.7, 7.5, 8.4, 6.3, 5.1, 5.7, 6.6, 8.4, 6.0, 5.1,
     6.3, 7.5, 6.0, 4.8, 5.7, 7.8, 6.9, 5.4, 4.5, 5.7, 7.2, 6.3, 5.1, 6.0, 8.1, 6.6, 5.4, 6.6, 5.7, 4.8],
    [8.2, 9.0, 7.5, 7.8, 8.7, 10.5, 9.9, 8.4, 10.8, 11.1, 11.7, 11.7, 11.4, 11.7, 9.3, 8.7, 7.8, 6.3, 6.9, 9.0,
     12.3, 14.7, 12.9, 10.8, 12.6, 10.2, 8.7, 9.6, 8.1, 7.2, 8.7, 9.9, 8.1, 9.6, 10.8, 8.7, 9.3, 10.5, 8.4, 6.9,
     8.1, 9.3, 7.8, 6.6, 7.5, 9.0, 8.1, 6.9, 8.4, 7.5, 6.6, 8.1, 9.3, 11.1, 9.6, 8.4, 9.0, 8.1, 7.2, 6.3],
    [8.1, 9.0, 7.5, 7.7, 8.4, 9.6, 9.0, 7.5, 9.9, 10.2, 10.8, 10.5, 10.2, 9.3, 8.1, 6.9, 5.4, 4.2, 5.1, 6.3,
     6.9, 7.8, 6.6, 5.7, 6.9, 8.1, 6.3, 5.4, 3.9, 5.1, 6.3, 4.5, 3.9, 5.4, 4.8, 3.6, 4.5, 5.7, 4.2, 3.3,
     4.5, 5.4, 3.9, 3.0, 3.9, 5.1, 3.6, 2.7, 3.3, 4.5, 3.9, 2.7, 4.2, 5.1, 3.9, 3.0, 4.2, 4.8, 3.6, 3.0],
]
gust_limit = 20.9

# ---- Bedekkingsgraad ----
cloud_control = [78, 82.3, 78.5, 61, 91.5, 96, 80, 10, 7.5, 7, 43, 79.5, 84, 96.5, 99.5, 94,
                 90.2, 94, 95, 93.5, 96.5, 72.5, 81, 48, 82, 87.5, 92, 97, 99.5, 100, 94.2, 92,
                 59.5, 79.5, 79.5, 90.5, 92, 71.5, 62, 54, 49.7, 16.7, 17.3, 64, 89, 69.5, 34.5, 22,
                 16.3, 15.8, 3, 24.5, 69, 80.8, 81.2, 73.9, 56, 58, 66, 52]
cloud_q25 = [79, 74.2, 73, 63.5, 91, 95.3, 65, 5.3, 4.5, 3.7, 23, 71.5, 87.7, 81, 19.7, 14.3,
             14, 25, 60.5, 66.7, 75.5, 72.2, 70.4, 48, 72, 56, 44.7, 33, 47, 47.8, 31.5, 38,
             29, 30.3, 39.9, 51.7, 46.5, 35.8, 44, 46.5, 41.2, 28.3, 37.8, 25.8, 25.8, 19, 14.5, 23.8,
             29, 13.2, 17, 27.4, 33.2, 45, 24.2, 19.6, 33.8, 42.4, 43, 39.2]
cloud_median = [79.8, 76, 79, 66.5, 91.5, 96, 69.2, 7, 7.5, 6.2, 43, 80, 89, 93.5, 61, 44.2,
                35.8, 54, 81.3, 79.8, 87.3, 82.7, 86.7, 88.8, 82.3, 82.3, 80.5, 64, 63.5, 76.3, 81.3, 73.2,
                65.5, 61.7, 71.2, 78.2, 59.6, 63.8, 63.2, 62.3, 67, 60.4, 48.5, 55.4, 48.8, 35.8, 41.5, 43.1,
                56.2, 30.4, 30.4, 43.7, 51.7, 57, 63.6, 52.4, 57.8, 71.2, 65.9, 52]
cloud_q75 = [80.5, 80, 83.5, 70.5, 93, 97, 73.5, 8.5, 10.3, 19.7, 47.8, 86.5, 94.2, 96.5, 97, 85.5,
             64, 83, 93.3, 93, 92, 91.7, 95.3, 96.7, 92.3, 92, 91, 72.8, 78.5, 92, 91.2, 93.5,
             87.7, 85, 84.5, 87, 75, 75.4, 79.4, 82.6, 82.6, 86, 77.6, 74.2, 81, 69.6, 60.8, 69,
             72.8, 78, 65, 66.5, 70.3, 80.6, 80.9, 73.8, 70, 76.5, 80.8, 81.4]

BLUE = '#3434b8'
GREEN = '#3f9f3a'
DARKRED = '#5e0000'
LIGHTGRID = '#dcdcdc'
DAYLINE = '#5a5a5a'


def fx(x):
    return x / W


def fy(y):
    return 1 - y / H


def setup_axes(ax, xlim, ylim, ystep):
    ax.set_xlim(*xlim)
    ax.set_ylim(*ylim)
    for h in range(0, 400, 6):
        if xlim[0] < h < xlim[1]:
            if h % 24 == 0:
                ax.axvline(h, color=DAYLINE, lw=1.1, zorder=0.6)
            else:
                ax.axvline(h, color=LIGHTGRID, lw=1.0, zorder=0.5)
    yt = np.arange(ylim[0], ylim[1] + 0.01, ystep)
    for v in yt:
        ax.axhline(v, color=LIGHTGRID, lw=1.0, zorder=0.5)
    ax.set_yticks(yt)
    ax.set_yticklabels([f'{v:g}' for v in yt])
    ax.set_xticks([h for h in range(0, 400, 6) if xlim[0] <= h <= xlim[1]], minor=True)
    for side in ['left', 'bottom', 'top']:
        ax.spines[side].set_color('black')
        ax.spines[side].set_linewidth(1.0)
    ax.spines['right'].set_visible(False)
    ax.tick_params(axis='both', which='both', labelsize=7.5, length=3.5, width=0.8,
                   color='black', pad=1.5, direction='out', bottom=True, left=True)
    ax.set_xlabel('')
    ax.set_ylabel('')


def header(p, title, cloud=False):
    y0 = 300 * p + 13
    fig.text(fx(415), fy(y0), title, ha='center', va='center', fontsize=9.5,
             fontweight='bold', color='black')
    fig.text(fx(633), fy(300 * p + 4), 'Infoplaza.nl - regio midden', ha='right',
             va='center', fontsize=7, color='#9a9a9a')
    fig.text(fx(633), fy(300 * p + 15), 'Gemaakt: di 20 nov 21:00', ha='right',
             va='center', fontsize=7, color='#9a9a9a')
    if not cloud:
        fig.add_artist(Line2D([fx(28), fx(43)], [fy(y0), fy(y0)], color=BLUE, lw=2.8))
        fig.text(fx(47), fy(y0), 'Control', va='center', fontsize=7.5)
        fig.add_artist(Line2D([fx(107), fx(123)], [fy(y0), fy(y0)], color='#9fd08f', lw=0.9))
        fig.text(fx(125), fy(y0), 'Members', va='center', fontsize=7.5)
        fig.add_artist(Line2D([fx(194), fx(208)], [fy(y0), fy(y0)], color=DARKRED, lw=2.2,
                              linestyle=(0, (1, 1))))
        fig.text(fx(213), fy(y0), 'Average', va='center', fontsize=7.5)
    else:
        items = [(28, BLUE, 'control'), (98, '#ffffb0', '50%'), (156, 'black', 'median')]
        for x0, col, lab in items:
            fig.add_artist(Rectangle((fx(x0), fy(y0 + 3.5)), 7 / W, 7 / H, facecolor=col,
                                     edgecolor='black', lw=0.6, transform=fig.transFigure))
            fig.text(fx(x0 + 11), fy(y0), lab, va='center', fontsize=7.5)


fig = plt.figure(figsize=(W / 100, H / 100), dpi=100)
fig.patch.set_facecolor('white')

panels = [
    ('Temperatuur 2m', temp_control, temp_average, temp_members, (-10, 20), 5),
    ('Dauwpunt 2m', dew_control, dew_average, dew_members, (-10, 16), 2),
    ('Neerslag', rain_control, rain_average, rain_members, (0, 12), 2),
    ('10m wind', wind_control, wind_average, wind_members, (0, 16), 2),
    ('10m windstoten', gust_control, gust_average, gust_members, (0, 22), 2),
]

for p, (title, control, average, members, ylim, ystep) in enumerate(panels):
    ax = fig.add_axes([fx(28.7), fy(300 * p + 280), (W - 28.7) / W, 260 / H])
    mem_df = pd.DataFrame({
        't': np.tile(hours, len(members)),
        'v': np.concatenate([np.asarray(m, dtype=float) for m in members]),
        'm': np.repeat(np.arange(len(members)), len(hours)),
    })
    sns.lineplot(data=mem_df, x='t', y='v', units='m', estimator=None, color=GREEN,
                 lw=0.9, alpha=0.4, ax=ax, zorder=2, legend=False)
    if p == 0:
        ax.axhline(0, color='black', lw=2.0, zorder=1.5)
    if p == 4:
        ax.axhline(gust_limit, color='#2f4f4f', lw=1.6, linestyle=(0, (1, 1.5)), zorder=1.5)
    sns.lineplot(x=hours, y=average, color=DARKRED, lw=2.3, linestyle=(0, (1, 1)),
                 ax=ax, zorder=3)
    sns.lineplot(x=hours, y=control, color='#9a9ae6', lw=4.0, alpha=0.5, ax=ax, zorder=3.5)
    sns.lineplot(x=hours, y=control, color=BLUE, lw=2.6, ax=ax, zorder=4)
    ax.set_xticks([12 + 24 * j for j in range(len(day_labels))])
    ax.set_xticklabels(day_labels)
    setup_axes(ax, (12, 366), ylim, ystep)
    header(p, title)

# cloud cover panel
ax = fig.add_axes([fx(23.3), fy(1780), (W - 23.3) / W, 260 / H])
cloud_df = pd.DataFrame({'t': cloud_hours, 'q25': cloud_q25, 'med': cloud_median,
                         'q75': cloud_q75, 'ctrl': cloud_control})
ax.bar(cloud_df['t'], cloud_df['q75'] - cloud_df['q25'], bottom=cloud_df['q25'], width=4.8,
       color='#ffffb4', edgecolor='#c4c4a4', linewidth=1.0, zorder=2)
ax.hlines(cloud_df['med'], cloud_df['t'] - 2.0, cloud_df['t'] + 2.0, color='black',
          lw=0.9, zorder=3)
sns.lineplot(data=cloud_df, x='t', y='ctrl', color='#a8a8f0', lw=4.0, alpha=0.6, ax=ax, zorder=3.5)
sns.lineplot(data=cloud_df, x='t', y='ctrl', color=BLUE, lw=1.8, ax=ax, zorder=4)
ax.set_xticks([24 * j + 17 for j in range(1, len(day_labels))])
ax.set_xticklabels(day_labels[1:])
setup_axes(ax, (18.2, 376), (0, 100), 10)
header(5, 'Bedekkingsgraad', cloud=True)

fig.savefig('out.png', dpi=100)
